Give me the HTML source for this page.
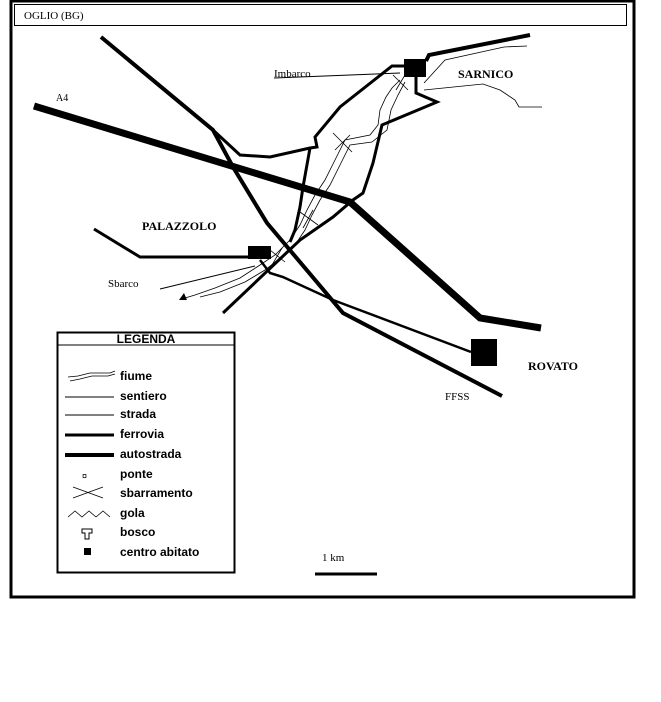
<!DOCTYPE html>
<html><head><style>
body{margin:0;background:#fff;width:661px;height:702px;overflow:hidden}
svg{display:block}
.s{font-family:"Liberation Serif",serif}
.b{font-family:"Liberation Sans",sans-serif;font-weight:bold;font-size:12px}
</style></head><body>
<svg width="661" height="702" viewBox="0 0 661 702" xmlns="http://www.w3.org/2000/svg">
<rect x="11" y="1" width="623" height="596" fill="none" stroke="#000" stroke-width="3"/>
<rect x="14.5" y="4.5" width="612" height="21" fill="none" stroke="#000" stroke-width="1"/>
<text x="24" y="19" class="s" font-size="11">OGLIO (BG)</text>
<g fill="none" stroke="#000" stroke-linejoin="miter">
<polyline points="34,106 350,202 480,318 541,328" stroke-width="7"/>
<polyline points="101,37 213,130 233,167 267,223 343,313 502,396" stroke-width="4"/>
<polyline points="213,130 240,155 270,157 310,148 317,147 315,137 340,107 392,66 406,66" stroke-width="3"/>
<polyline points="426,61 429,55 530,35" stroke-width="4"/>
<polyline points="416,76 416,93 437,102 382,125 373,163 363,193 353,200 333,217 300,240 223,313" stroke-width="3"/>
<polyline points="310,148 303,187 300,207 295,230 290,242" stroke-width="3"/>
<polyline points="94,229 140,257 250,257" stroke-width="3"/>
<polyline points="260,260 270,273 283,277 333,300 471,352" stroke-width="2.5"/>
<g stroke-width="0.8">
<polyline points="400,80 392,88 386,97 380,110 378,125 370,135 345,140 335,160 325,180 315,195 307,210 300,225 290,240 275,255 260,265 240,278 215,288 195,295 185,298"/>
<polyline points="405,82 398,95 391,110 387,130 372,142 350,145 340,165 330,185 320,200 312,215 305,230 295,245 280,258 265,270 245,282 220,292 200,297"/>
<polyline points="424,83 445,60 504,47 527,46"/>
<polyline points="424,90 483,84 500,90 515,100 519,107 542,107"/>
</g>
<g stroke-width="0.8">
<line x1="333" y1="133" x2="352" y2="152"/><line x1="350" y1="135" x2="335" y2="150"/>
<line x1="300" y1="212" x2="318" y2="225"/><line x1="313" y1="210" x2="303" y2="228"/>
<line x1="270" y1="250" x2="285" y2="262"/><line x1="282" y1="248" x2="272" y2="265"/>
<line x1="393" y1="75" x2="408" y2="90"/><line x1="405" y1="75" x2="396" y2="90"/>
</g>
<line x1="274" y1="78" x2="400" y2="73" stroke-width="1"/>
<line x1="160" y1="289" x2="255" y2="266" stroke-width="1"/>
<line x1="315" y1="574" x2="377" y2="574" stroke-width="3"/>
</g>
<rect x="404" y="59" width="22" height="18" fill="#000"/>
<rect x="248" y="246" width="23" height="13" fill="#000"/>
<rect x="471" y="339" width="26" height="27" fill="#000"/>
<polygon points="179,300 187,300 184,293" fill="#000"/>
<text x="56" y="101" class="s" font-size="10">A4</text>
<text x="274" y="77" class="s" font-size="11">Imbarco</text>
<text x="458" y="78" class="s" font-size="12" font-weight="bold">SARNICO</text>
<text x="142" y="230" class="s" font-size="12" font-weight="bold">PALAZZOLO</text>
<text x="108" y="287" class="s" font-size="11">Sbarco</text>
<text x="528" y="370" class="s" font-size="12" font-weight="bold">ROVATO</text>
<text x="445" y="400" class="s" font-size="11">FFSS</text>
<text x="322" y="561" class="s" font-size="11">1 km</text>
<rect x="57.5" y="332.5" width="177" height="240" fill="none" stroke="#000" stroke-width="2"/>
<line x1="57" y1="345" x2="235" y2="345" stroke="#000" stroke-width="1"/>
<text x="146" y="343" class="b" text-anchor="middle" font-weight="normal">LEGENDA</text>
<g fill="none" stroke="#000">
<polyline points="68,377 78,376 90,373 110,373 115,371" stroke-width="0.8"/>
<polyline points="70,381 80,379 92,376 108,376 115,374" stroke-width="0.8"/>
<line x1="65" y1="397" x2="114" y2="397" stroke-width="1"/>
<line x1="65" y1="415" x2="114" y2="415" stroke-width="1"/>
<line x1="65" y1="435" x2="114" y2="435" stroke-width="3"/>
<line x1="65" y1="455" x2="114" y2="455" stroke-width="4"/>
<line x1="73" y1="487" x2="103" y2="498" stroke-width="0.8"/>
<line x1="73" y1="498" x2="103" y2="487" stroke-width="0.8"/>
<polyline points="68,517 75,511 82,517 89,511 96,517 103,511 110,517" stroke-width="0.8"/>
<path d="M82,529 h10 v4 h-3 v6 h-4 v-6 h-3 z" stroke-width="1"/>
</g>
<text x="82" y="479" font-size="9" font-family="Liberation Sans,sans-serif">¤</text>
<rect x="84" y="548" width="7" height="7" fill="#000"/>
<text x="120" y="380" class="b">fiume</text>
<text x="120" y="400" class="b">sentiero</text>
<text x="120" y="418" class="b">strada</text>
<text x="120" y="438" class="b">ferrovia</text>
<text x="120" y="458" class="b">autostrada</text>
<text x="120" y="478" class="b">ponte</text>
<text x="120" y="497" class="b">sbarramento</text>
<text x="120" y="517" class="b">gola</text>
<text x="120" y="536" class="b">bosco</text>
<text x="120" y="556" class="b">centro abitato</text>
</svg>
</body></html>
